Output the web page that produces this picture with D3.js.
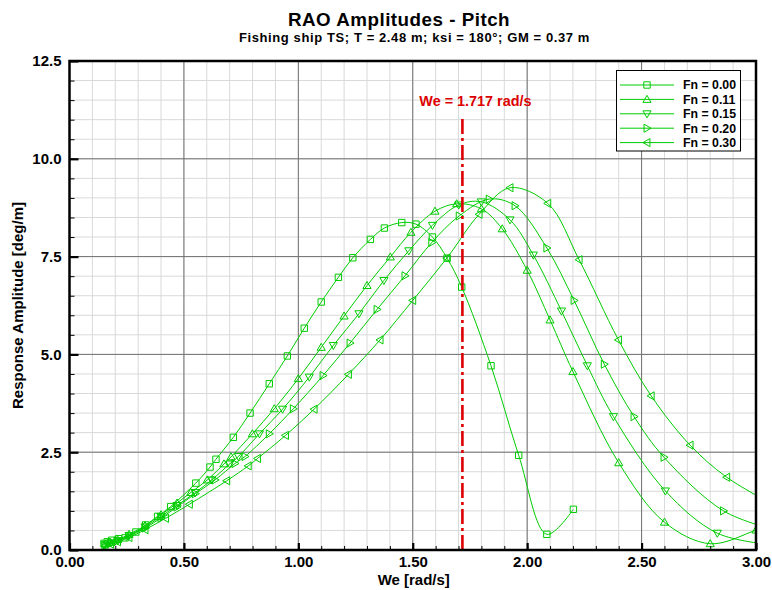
<!DOCTYPE html>
<html><head><meta charset="utf-8">
<script src="https://cdn.jsdelivr.net/npm/d3@7"></script>
<style>
body{margin:0;background:#fff}
svg{display:block}
text{font-family:"Liberation Sans",Arial,Helvetica,sans-serif;font-weight:bold}
</style>
</head><body>
<svg id="c" width="772" height="590"></svg>
<script>
// ---- data ----
const weFn000  = [0.151,0.165,0.185,0.215,0.243,0.29,0.333,0.385,0.442,0.552,0.614,0.640,0.716,0.789,0.873,0.952,1.026,1.100,1.175,1.238,1.315,1.376,1.452,1.514,1.586,1.650,1.714,1.842,1.963,2.086,2.202];
const raoFn000 = [0.17,0.21,0.25,0.29,0.31,0.46,0.64,0.86,1.11,1.71,2.12,2.32,2.88,3.50,4.25,4.96,5.67,6.34,6.97,7.47,7.94,8.23,8.37,8.33,8.00,7.46,6.72,4.71,2.42,0.40,1.04];

const weFn011  = [0.155,0.18,0.21,0.26,0.33,0.40,0.47,0.53,0.602,0.675,0.706,0.799,0.895,1.000,1.100,1.200,1.300,1.402,1.492,1.597,1.692,1.800,1.891,2.000,2.100,2.200,2.400,2.600,2.800,3.000,3.100];
const raoFn011 = [0.15,0.19,0.26,0.40,0.62,0.90,1.20,1.47,1.79,2.20,2.38,2.97,3.61,4.38,5.18,5.98,6.76,7.49,8.12,8.66,8.85,8.72,8.21,7.15,5.88,4.56,2.23,0.71,0.16,0.51,0.74];

const weFn015  = [0.155,0.18,0.21,0.26,0.33,0.40,0.47,0.55,0.621,0.70,0.738,0.830,0.931,1.048,1.153,1.265,1.374,1.483,1.586,1.701,1.800,1.925,2.027,2.150,2.263,2.377,2.604,2.831,3.060];
const raoFn015 = [0.13,0.18,0.24,0.37,0.59,0.86,1.14,1.47,1.79,2.20,2.39,2.97,3.60,4.42,5.23,6.04,6.89,7.65,8.30,8.82,8.90,8.44,7.54,6.11,4.71,3.41,1.51,0.43,0.14];

const weFn020  = [0.155,0.18,0.21,0.26,0.33,0.40,0.47,0.55,0.636,0.723,0.767,0.873,0.978,1.108,1.226,1.344,1.466,1.583,1.703,1.834,1.947,2.086,2.205,2.337,2.467,2.598,2.858,3.090];
const raoFn020 = [0.12,0.17,0.23,0.35,0.56,0.82,1.10,1.44,1.79,2.21,2.39,2.97,3.61,4.46,5.29,6.15,7.01,7.86,8.54,8.97,8.80,7.72,6.38,4.75,3.41,2.37,1.00,0.50];

const weFn030  = [0.155,0.18,0.21,0.26,0.33,0.42,0.524,0.687,0.781,0.822,0.944,1.069,1.219,1.357,1.500,1.649,1.790,1.925,2.090,2.227,2.399,2.542,2.712,2.872,3.100];
const raoFn030 = [0.11,0.15,0.21,0.32,0.52,0.81,1.17,1.77,2.15,2.34,2.93,3.60,4.49,5.37,6.38,7.46,8.58,9.26,8.86,7.42,5.37,3.94,2.68,1.86,1.08];

const seriesNames = ["Fn = 0.00","Fn = 0.11","Fn = 0.15","Fn = 0.20","Fn = 0.30"];
const markerTypes = ["square","up","down","right","left"];
const xTicks = [0,0.5,1.0,1.5,2.0,2.5,3.0];
const yTicks = [0,2.5,5.0,7.5,10.0,12.5];
const peakWe = 1.717;
const peakLineTop = 11.07;
const titleText = "RAO Amplitudes - Pitch";
const subtitleText = "Fishing ship TS; T = 2.48 m; ksi = 180°; GM = 0.37 m";
const xTitle = "We [rad/s]";
const yTitle = "Response Amplitude [deg/m]";

const series = [
  {name:seriesNames[0], marker:markerTypes[0], we:weFn000, rao:raoFn000},
  {name:seriesNames[1], marker:markerTypes[1], we:weFn011, rao:raoFn011},
  {name:seriesNames[2], marker:markerTypes[2], we:weFn015, rao:raoFn015},
  {name:seriesNames[3], marker:markerTypes[3], we:weFn020, rao:raoFn020},
  {name:seriesNames[4], marker:markerTypes[4], we:weFn030, rao:raoFn030}
];

// ---- layout ----
const L=69.5, R=756, T=61, B=550;
const GREEN="#00cc00";
const svg = d3.select("#c");
const x = d3.scaleLinear().domain([0,3]).range([L,R]);
const y = d3.scaleLinear().domain([0,12.5]).range([B,T]);

svg.append("rect").attr("width",772).attr("height",590).attr("fill","#fff");

// grid
const minorX = d3.range(0,3.0001,0.1).map(v=>+v.toFixed(2));
const minorY = d3.range(0,12.5001,0.5).map(v=>+v.toFixed(2));
const g = svg.append("g");
g.selectAll(".mx").data(minorX).enter().append("line")
  .attr("x1",d=>x(d)).attr("x2",d=>x(d)).attr("y1",T).attr("y2",B)
  .attr("stroke","#d9d9d9").attr("stroke-width",1);
g.selectAll(".my").data(minorY).enter().append("line")
  .attr("y1",d=>y(d)).attr("y2",d=>y(d)).attr("x1",L).attr("x2",R)
  .attr("stroke","#d9d9d9").attr("stroke-width",1);
g.selectAll(".Mx").data(xTicks).enter().append("line")
  .attr("x1",d=>x(d)).attr("x2",d=>x(d)).attr("y1",T).attr("y2",B)
  .attr("stroke","#707070").attr("stroke-width",1);
g.selectAll(".My").data(yTicks).enter().append("line")
  .attr("y1",d=>y(d)).attr("y2",d=>y(d)).attr("x1",L).attr("x2",R)
  .attr("stroke","#707070").attr("stroke-width",1);

// clip
svg.append("clipPath").attr("id","clip").append("rect")
  .attr("x",L).attr("y",T).attr("width",R-L).attr("height",B-T);

function markerPath(type, s){
  switch(type){
    case "square": return `M${-s},${-s}H${s}V${s}H${-s}Z`;
    case "up":     return `M0,${-s*1.1}L${s*1.1},${s*0.8}L${-s*1.1},${s*0.8}Z`;
    case "down":   return `M0,${s*1.1}L${s*1.1},${-s*0.8}L${-s*1.1},${-s*0.8}Z`;
    case "right":  return `M${s*1.1},0L${-s*0.8},${-s*1.1}L${-s*0.8},${s*1.1}Z`;
    case "left":   return `M${-s*1.1},0L${s*0.8},${-s*1.1}L${s*0.8},${s*1.1}Z`;
  }
}
function markerSize(type){ return type==="square"?3.2:3.7; }

const line = d3.line().x(d=>x(d[0])).y(d=>y(d[1])).curve(d3.curveCatmullRom.alpha(0.5));
const plot = svg.append("g").attr("clip-path","url(#clip)");
series.forEach(s=>{
  const pts = s.we.map((w,i)=>[w,s.rao[i]]);
  plot.append("path").datum(pts).attr("d",line)
    .attr("fill","none").attr("stroke",GREEN).attr("stroke-width",1);
  plot.selectAll(null).data(pts).enter().append("path")
    .attr("transform",d=>`translate(${x(d[0])},${y(d[1])})`)
    .attr("d",markerPath(s.marker, markerSize(s.marker)))
    .attr("fill","none").attr("stroke",GREEN).attr("stroke-width",1);
});

// peak line
svg.append("line").attr("x1",x(peakWe)).attr("x2",x(peakWe))
  .attr("y1",y(0)).attr("y2",y(peakLineTop))
  .attr("stroke","#dd0000").attr("stroke-width",2.6)
  .attr("stroke-dasharray","15,4,3,4");
svg.append("text").attr("x",x(peakWe)+13).attr("y",106)
  .attr("text-anchor","middle").attr("fill","#dd0000").attr("font-size",14.4)
  .text(`We = ${peakWe.toFixed(3)} rad/s`);

// axes
const axB = d3.axisBottom(x).tickValues(xTicks).tickFormat(d3.format(".2f"))
  .tickSizeInner(-7).tickSizeOuter(0).tickPadding(6);
const axBm = d3.axisBottom(x).tickValues(minorX).tickFormat("").tickSizeInner(-4).tickSizeOuter(0);
const axL = d3.axisLeft(y).tickValues(yTicks).tickFormat(d3.format(".1f"))
  .tickSizeInner(-9).tickSizeOuter(0).tickPadding(8);
const axLm = d3.axisLeft(y).tickValues(minorY).tickFormat("").tickSizeInner(-5).tickSizeOuter(0);

function styleAxis(sel, w){
  sel.select(".domain").remove();
  sel.selectAll(".tick line").attr("stroke","#000").attr("stroke-width",w);
  sel.selectAll(".tick text").attr("fill","#000").attr("font-size",15)
     .attr("font-family",'"Liberation Sans",Arial,sans-serif').attr("font-weight","bold");
}
svg.append("g").attr("transform",`translate(0,${B})`).call(axBm).call(s=>styleAxis(s,1));
svg.append("g").attr("transform",`translate(${L},0)`).call(axLm).call(s=>styleAxis(s,1));
svg.append("g").attr("transform",`translate(0,${B})`).call(axB).call(s=>styleAxis(s,2.2));
svg.append("g").attr("transform",`translate(${L},0)`).call(axL).call(s=>styleAxis(s,2.2));

// border
svg.append("rect").attr("x",L).attr("y",T).attr("width",R-L).attr("height",B-T)
  .attr("fill","none").attr("stroke","#000").attr("stroke-width",2.5);

// legend
const lg = svg.append("g");
lg.append("rect").attr("x",616.5).attr("y",70.5).attr("width",124).attr("height",80.5)
  .attr("fill","#fff").attr("stroke","#000").attr("stroke-width",1);
series.forEach((s,i)=>{
  const cy = 85 + i*14.4;
  lg.append("line").attr("x1",620).attr("x2",674).attr("y1",cy).attr("y2",cy)
    .attr("stroke",GREEN).attr("stroke-width",1);
  lg.append("path").attr("transform",`translate(647,${cy})`)
    .attr("d",markerPath(s.marker, markerSize(s.marker)))
    .attr("fill","none").attr("stroke",GREEN).attr("stroke-width",1);
  lg.append("text").attr("x",683).attr("y",cy+4.3).attr("font-size",12.3).attr("fill","#000").text(s.name);
});

// titles
svg.append("text").attr("x",399).attr("y",25.5).attr("text-anchor","middle")
  .attr("font-size",18.8).attr("letter-spacing",0.5).attr("fill","#000").text(titleText);
svg.append("text").attr("x",414.5).attr("y",42).attr("text-anchor","middle")
  .attr("font-size",13).attr("letter-spacing",0.6).attr("fill","#000").text(subtitleText);
svg.append("text").attr("x",(L+R)/2+1).attr("y",585).attr("text-anchor","middle")
  .attr("font-size",15).attr("fill","#000").text(xTitle);
svg.append("text").attr("transform",`translate(23,${(T+B)/2}) rotate(-90)`)
  .attr("text-anchor","middle").attr("font-size",15).attr("fill","#000").text(yTitle);
</script>
</body></html>
